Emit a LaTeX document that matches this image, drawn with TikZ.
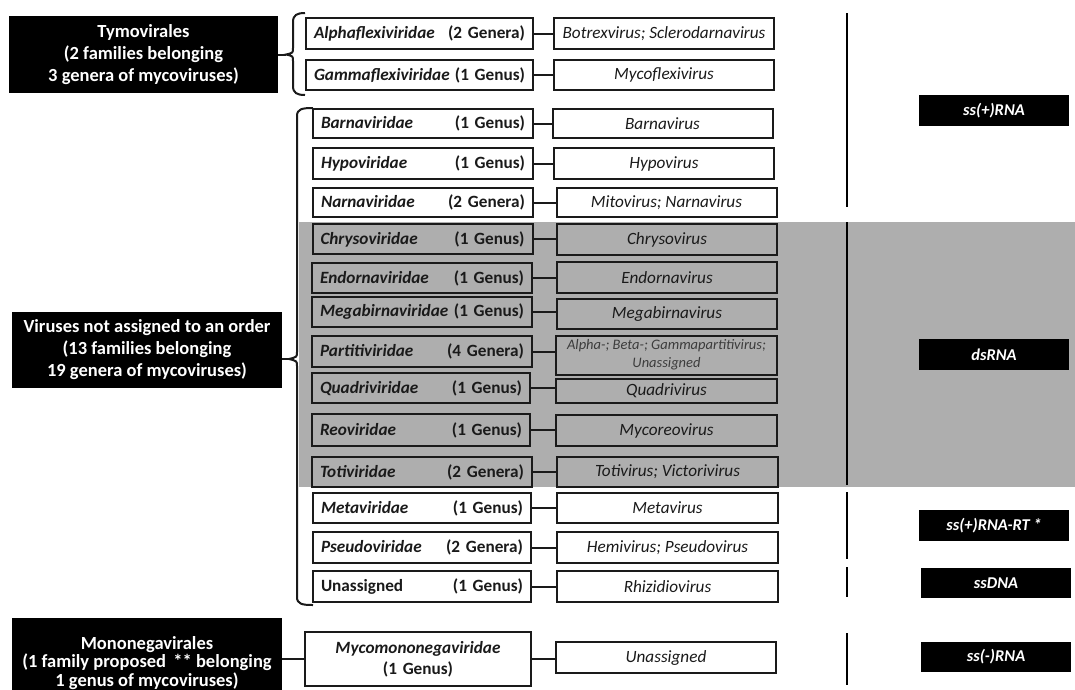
\documentclass[tikz,border=0pt]{standalone}
\usepackage{fontspec}
\setmainfont{Carlito}
\newcommand{\fs}{\fontsize{17.2}{19}\selectfont}
\newcommand{\fsorder}{\fontsize{18.5}{22}\selectfont}
\definecolor{bandgray}{HTML}{AEAEAE}
\definecolor{ink}{HTML}{1A1A1A}
\begin{document}
\begin{tikzpicture}[x=1pt,y=-1pt,
  fam/.style={draw=ink, line width=2pt, inner xsep=8pt, inner ysep=0pt, minimum height=30pt, text width=204pt, font=\fs\bfseries, text=ink, anchor=center},
  gen/.style={draw=ink, line width=2pt, inner sep=0pt, minimum height=30pt, minimum width=220pt, font=\fs\itshape, text=ink, align=center},
  order/.style={fill=black, inner sep=0pt, text=white, font=\fsorder\bfseries, align=center},
  tag/.style={fill=black, inner sep=0pt, minimum width=150pt, minimum height=31pt, text=white, font=\fontsize{16.5}{19}\selectfont\bfseries\itshape},
  conn/.style={draw=ink, line width=2pt},
  brace/.style={draw=ink, line width=2pt},
  rline/.style={draw=black, line width=2.5pt}]
\useasboundingbox (0,0) rectangle (1075,689);
\clip (0,0) rectangle (1075,689);
\fill[white] (0,0) rectangle (1075,689);
% gray band
\fill[bandgray] (299,222) rectangle (1075,487);

% order boxes
\node[order, minimum width=269pt, minimum height=77pt] (L1) at (143.5,54.5) {Tymovirales\\(2 families belonging\\3 genera of mycoviruses)};
\node[order, minimum width=270pt, minimum height=76pt] (L2) at (147,350) {Viruses not assigned to an order\\(13 families belonging\\19 genera of mycoviruses)};
\node[order, minimum width=270pt, minimum height=90pt, font=\fontsize{18.5}{18.5}\selectfont\bfseries] (L3) at (147,663) {Mononegavirales\\(1 family proposed \,** belonging\\1 genus of mycoviruses)};

% family boxes
\node[fam, text width=211pt, minimum height=31pt] (f1) at (419.5,33.5) {\textit{Alphaflexiviridae}\hfill(2 Genera)};
\node[fam, text width=211pt] (f2) at (419.5,75) {\textit{Gammaflexiviridae}\hfill(1 Genus)};
\node[fam, minimum height=29pt] (f3) at (423,123.5) {\textit{Barnaviridae}\hfill(1 Genus)};
\node[fam, minimum height=31pt] (f4) at (423,163.5) {\textit{Hypoviridae}\hfill(1 Genus)};
\node[fam, minimum height=29pt] (f5) at (423,202.5) {\textit{Narnaviridae}\hfill(2 Genera)};
\node[fam] (f6) at (422.5,239) {\textit{Chrysoviridae}\hfill(1 Genus)};
\node[fam] (f7) at (422,278) {\textit{Endornaviridae}\hfill(1 Genus)};
\node[fam] (f8) at (422,312) {\textit{Megabirnaviridae}\hfill(1 Genus)};
\node[fam, minimum height=31pt] (f9) at (422,351.5) {\textit{Partitiviridae}\hfill(4 Genera)};
\node[fam, text width=202pt] (f10) at (421,388) {\textit{Quadriviridae}\hfill(1 Genus)};
\node[fam, text width=202pt, minimum height=32pt] (f11) at (421,430) {\textit{Reoviridae}\hfill(1 Genus)};
\node[fam] (f12) at (422,472) {\textit{Totiviridae}\hfill(2 Genera)};
\node[fam, text width=202pt] (f13) at (422,508) {\textit{Metaviridae}\hfill(1 Genus)};
\node[fam, text width=202pt, minimum height=31pt] (f14) at (422,547.5) {\textit{Pseudoviridae}\hfill(2 Genera)};
\node[fam, text width=202pt, minimum height=31pt] (f15) at (422,586.5) {Unassigned\hfill(1 Genus)};
\node[fam, text width=210pt, minimum height=54pt, align=center, font=\fontsize{17.2}{21}\selectfont\bfseries] (f16) at (418,659) {\textit{Mycomononegaviridae}\\(1 Genus)};

% genus boxes
\node[gen, minimum height=31pt] (g1) at (664,33.5) {Botrexvirus; Sclerodarnavirus};
\node[gen] (g2) at (664,75) {Mycoflexivirus};
\node[gen, minimum height=29pt] (g3) at (662.5,123.5) {Barnavirus};
\node[gen, minimum height=31pt] (g4) at (664,163.5) {Hypovirus};
\node[gen, minimum height=29pt] (g5) at (666.5,202.5) {Mitovirus; Narnavirus};
\node[gen, minimum height=31pt] (g6) at (667,239.5) {Chrysovirus};
\node[gen, minimum height=31pt] (g7) at (667,277.5) {Endornavirus};
\node[gen] (g8) at (667,314) {Megabirnavirus};
\node[gen, minimum width=221pt, minimum height=39pt, font=\fontsize{14.5}{18}\selectfont\itshape, text=ink!85] (g9) at (666.5,355) {Alpha-; Beta-; Gammapartitivirus;\\Unassigned};
\node[gen, minimum width=221pt, minimum height=24pt] (g10) at (666.5,391) {Quadrivirus};
\node[gen, minimum width=221pt, minimum height=31pt] (g11) at (666.5,430.5) {Mycoreovirus};
\node[gen, minimum width=221pt] (g12) at (667.5,472) {Totivirus; Victorivirus};
\node[gen, minimum width=221pt] (g13) at (667.5,508) {Metavirus};
\node[gen, minimum width=221pt, minimum height=31pt] (g14) at (667.5,547.5) {Hemivirus; Pseudovirus};
\node[gen, minimum width=221pt, minimum height=31pt] (g15) at (667.5,586.5) {Rhizidiovirus};
\node[gen, minimum height=31pt] (g16) at (666,657.5) {Unassigned};

% connectors family -> genus
\foreach \i in {1,...,16}{
  \draw[conn] (f\i.east) -- (f\i.east -| g\i.west);
}

% braces
\coordinate (b1tip) at (286,54.5);
\coordinate (b2tip) at (289,359);
\draw[brace] (305,13) .. controls (297,13) and (293,15) .. (293,22) -- (293,48) .. controls (293,53) .. (b1tip) .. controls (293,56) .. (293,61) -- (293,86) .. controls (293,93) and (297,95) .. (305,95);
\draw[brace] (313,108) .. controls (302,108) and (297,109) .. (297,116) -- (297,352) .. controls (297,357) .. (b2tip) .. controls (297,361) .. (297,366) -- (297,597) .. controls (297,604) and (302,605) .. (313,605);
\draw[conn] (L1.east |- b1tip) -- (b1tip);
\draw[conn] (L2.east |- b2tip) -- (b2tip);
\draw[conn] (L3.east |- f16.west) -- (f16.west);

% right separators
\draw[rline] (847,13) -- (847,207);
\draw[rline] (847,222) -- (847,485);
\draw[rline] (847,492) -- (847,559);
\draw[rline] (847,567) -- (847,597);
\draw[rline] (847,633) -- (847,685);

% genome type tags
\node[tag] (R1) at (994,110.5) {ss(+)RNA};
\node[tag] (R2) at (994,354.5) {dsRNA};
\node[tag] (R3) at (994,525.5) {ss(+)RNA-RT *};
\node[tag, minimum height=30pt] (R4) at (996,583) {ssDNA};
\node[tag, minimum height=30pt] (R5) at (996,657) {ss(-)RNA};
\end{tikzpicture}
\end{document}
